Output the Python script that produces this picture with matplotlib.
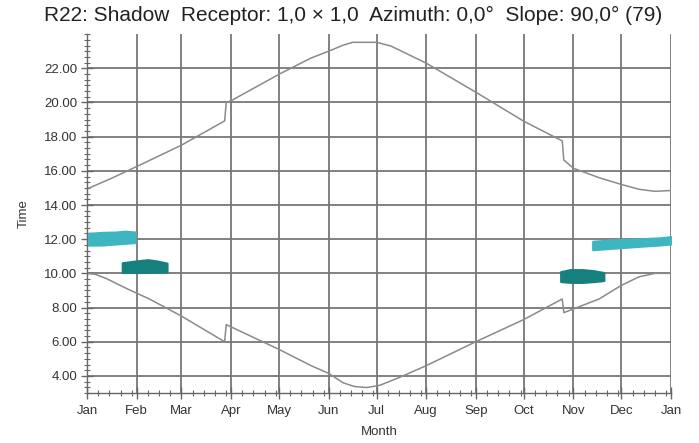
import matplotlib
matplotlib.use("Agg")
import matplotlib.pyplot as plt
from matplotlib.ticker import FixedLocator, MultipleLocator, FixedFormatter
import numpy as np

plt.rcParams['font.family'] = ['Liberation Sans', 'DejaVu Sans']

title = "R22: Shadow  Receptor: 1,0 \u00d7 1,0  Azimuth: 0,0\u00b0  Slope: 90,0\u00b0 (79)"
month_labels = ["Jan", "Feb", "Mar", "Apr", "May", "Jun", "Jul", "Aug", "Sep", "Oct", "Nov", "Dec", "Jan"]
month_starts = [0, 31, 59, 90, 120, 151, 181, 212, 243, 273, 304, 334, 365]
y_ticks = [4, 6, 8, 10, 12, 14, 16, 18, 20, 22]

# upper curve (sunset-like)
upper_days = [0, 15, 31, 59, 86, 87, 90, 120, 140, 151, 160, 166, 181, 190, 212, 243, 273, 297, 298,
              304, 320, 334, 345, 355, 365]
upper_hours = [14.94, 15.55, 16.25, 17.5, 18.92, 20.0, 20.1, 21.65, 22.6, 23.0, 23.35, 23.52, 23.52, 23.3,
               22.3, 20.6, 18.9, 17.75, 16.63, 16.15, 15.6, 15.2, 14.92, 14.8, 14.85]

# lower curve (sunrise-like)
lower_days = [0, 5, 12, 25, 39, 59, 86, 87, 120, 140, 151, 160, 167, 175, 183, 195, 212, 243, 273,
              297, 298, 320, 334, 345, 355, 365]
lower_hours = [10.0, 9.95, 9.7, 9.1, 8.5, 7.5, 6.0, 7.0, 5.55, 4.6, 4.15, 3.6, 3.38, 3.32, 3.45, 3.9,
               4.6, 6.0, 7.3, 8.5, 7.7, 8.5, 9.3, 9.8, 10.0, 10.0]

# shadow periods (day, start hour, end hour)
shadow1_days = [1, 10, 18, 24, 30]
shadow1_lo = [11.65, 11.66, 11.72, 11.76, 11.8]
shadow1_hi = [12.35, 12.4, 12.42, 12.47, 12.42]

shadow2_days = [22, 30, 38, 44, 50]
shadow2_lo = [10.05, 10.05, 10.05, 10.07, 10.08]
shadow2_hi = [10.62, 10.72, 10.8, 10.72, 10.6]

shadow3_days = [296, 302, 310, 317, 323]
shadow3_lo = [9.52, 9.47, 9.47, 9.52, 9.58]
shadow3_hi = [10.1, 10.22, 10.22, 10.15, 10.05]

shadow4_days = [316, 330, 345, 358, 365]
shadow4_lo = [11.38, 11.48, 11.58, 11.66, 11.72]
shadow4_hi = [11.88, 11.97, 12.02, 12.08, 12.15]

fig = plt.figure(figsize=(6.99, 4.43), dpi=100)
ax = fig.add_axes([0.1245, 0.1129, 0.8355, 0.8101])

grid_c = "#777777"
for d in month_starts[1:]:
    ax.axvline(d, color=grid_c, lw=1.3, zorder=1)
for t in y_ticks:
    ax.axhline(t, color=grid_c, lw=1.3, zorder=1)

line_c = "#8a8a8a"
ax.plot(upper_days, upper_hours, color=line_c, lw=1.1, zorder=2)
ax.plot(lower_days, lower_hours, color=line_c, lw=1.1, zorder=2)

light = "#3db6c2"
dark = "#16807f"
for dd, lo, hi, c in [(shadow1_days, shadow1_lo, shadow1_hi, light),
                      (shadow2_days, shadow2_lo, shadow2_hi, dark),
                      (shadow3_days, shadow3_lo, shadow3_hi, dark),
                      (shadow4_days, shadow4_lo, shadow4_hi, light)]:
    ax.fill_between(dd, lo, hi, color=c, lw=1.5, edgecolor=c, zorder=3)

ax.set_xlim(0, 365)
ax.set_ylim(3, 24)

ax.xaxis.set_major_locator(FixedLocator(month_starts))
ax.xaxis.set_major_formatter(FixedFormatter(month_labels))
minor_x = [m + w for m in month_starts[:-1] for w in (7, 14, 21, 28) if m + w < 365]
ax.xaxis.set_minor_locator(FixedLocator(minor_x))
ax.yaxis.set_major_locator(FixedLocator(y_ticks))
ax.set_yticklabels([f"{t:.2f}" for t in y_ticks])
ax.yaxis.set_minor_locator(MultipleLocator(1/3))

for s in ["top", "right"]:
    ax.spines[s].set_visible(False)
for s in ["left", "bottom"]:
    ax.spines[s].set_color("#666666")
    ax.spines[s].set_linewidth(1.0)

ax.tick_params(axis="both", which="major", direction="inout", length=8, width=1, color="#666666",
               labelsize=9.5, labelcolor="#333333", pad=3)
ax.tick_params(axis="x", which="major", pad=5)
ax.tick_params(axis="both", which="minor", direction="inout", length=4, width=0.8, color="#666666")

ax.set_xlabel("Month", fontsize=9.5, color="#333333", labelpad=6)
ax.set_ylabel("Time", fontsize=9.5, color="#333333", labelpad=10)
fig.text(0.505, 0.966, title, ha="center", va="center", fontsize=15, color="#222222")

fig.savefig("out.png", dpi=100)
